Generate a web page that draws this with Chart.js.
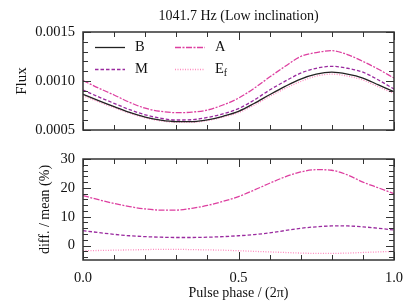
<!DOCTYPE html>
<html>
<head>
<meta charset="utf-8">
<script src="https://cdn.jsdelivr.net/npm/chart.js@4.4.1/dist/chart.umd.min.js"></script>
<style>
body { margin: 0; background: #fff; }
#wrap { position: relative; width: 415px; height: 305px; }
canvas { position: absolute; left: 0; }
</style>
</head>
<body>
<div id="wrap">
  <canvas id="fluxChart" width="415" height="140" style="top:0"></canvas>
  <canvas id="diffChart" width="415" height="165" style="top:140px"></canvas>
</div>
<script>
// data
const phase = [0, 0.05, 0.1, 0.15, 0.2, 0.25, 0.3, 0.35, 0.4, 0.45, 0.5,
               0.55, 0.6, 0.65, 0.7, 0.75, 0.8, 0.85, 0.9, 0.95, 1.0];

const fluxB = [0.000865, 0.000800, 0.000738, 0.000680, 0.000632, 0.000600, 0.000585, 0.000585, 0.000603, 0.000640, 0.000690,
               0.000770, 0.000860, 0.000945, 0.001020, 0.001070, 0.001090, 0.001070, 0.001030, 0.000960, 0.000890];
const fluxM = [0.000908, 0.000838, 0.000772, 0.000708, 0.000655, 0.000620, 0.000602, 0.000605, 0.000628, 0.000665, 0.000718,
               0.000805, 0.000908, 0.000998, 0.001080, 0.001130, 0.001150, 0.001130, 0.001090, 0.001010, 0.000918];
const fluxA = [0.001005, 0.000928, 0.000857, 0.000782, 0.000722, 0.000690, 0.000677, 0.000682, 0.000704, 0.000755, 0.000825,
               0.000925, 0.001040, 0.001150, 0.001250, 0.001290, 0.001310, 0.001270, 0.001200, 0.001120, 0.001030];
const fluxEf = [0.000850, 0.000787, 0.000727, 0.000671, 0.000624, 0.000593, 0.000578, 0.000578, 0.000596, 0.000631, 0.000677,
                0.000754, 0.000842, 0.000924, 0.000995, 0.001050, 0.001070, 0.001050, 0.001010, 0.000940, 0.000873];

const diffA = [17.3, 15.9, 14.6, 13.5, 12.7, 12.3, 12.3, 12.9, 13.9, 15.3, 17.0,
               19.2, 21.6, 23.8, 25.5, 26.3, 26.1, 24.5, 22.0, 20.0, 18.0];
const diffM = [5.2, 4.5, 3.9, 3.4, 3.1, 2.9, 2.8, 2.8, 2.9, 3.1, 3.4,
               3.8, 4.4, 5.2, 6.0, 6.5, 6.8, 6.8, 6.5, 6.0, 5.4];
const diffEf = [-1.8, -1.7, -1.6, -1.5, -1.4, -1.3, -1.3, -1.4, -1.5, -1.6, -1.8,
                -2.0, -2.2, -2.4, -2.6, -2.7, -2.7, -2.6, -2.4, -2.2, -2.0];

const fluxTicks = [0.0005, 0.0010, 0.0015];
const diffTicks = [0, 10, 20, 30];
const phaseTicks = [0, 0.5, 1];

Chart.defaults.font.family = "'Liberation Serif', 'DejaVu Serif', serif";
Chart.defaults.font.size = 14;
Chart.defaults.color = '#111';

const colB = '#222222', colM = '#9a2a9f', colA = '#dd3fa0', colEf = '#ff8cc0';

function pts(arr) {
  return phase.map((p, i) => ({ x: p, y: arr[i] }));
}

function line(label, arr, color, dash) {
  return {
    label: label,
    data: pts(arr),
    borderColor: color,
    borderWidth: 1.3,
    borderDash: dash,
    pointRadius: 0,
    fill: false,
    cubicInterpolationMode: 'monotone'
  };
}

// fixed axis box, no extra room for labels that stick out
function fixBox(w, h) {
  return s => {
    if (w) s.width = w;
    if (h) s.height = h;
    s.paddingTop = 0; s.paddingBottom = 0;
    s.paddingLeft = 0; s.paddingRight = 0;
  };
}

// frame round the plot, with inward ticks on all four sides
const frameTicks = {
  id: 'frameTicks',
  afterDatasetsDraw(chart, args, opts) {
    const { ctx, chartArea: a, scales } = chart;
    ctx.save();
    ctx.strokeStyle = '#333';
    ctx.lineWidth = 1;
    const seg = (x1, y1, x2, y2) => {
      ctx.beginPath(); ctx.moveTo(x1, y1); ctx.lineTo(x2, y2); ctx.stroke();
    };
    for (let i = 0; i <= opts.xCount; i++) {
      const v = opts.xMin + i * opts.xStep;
      const px = Math.round(scales.x.getPixelForValue(v)) + 0.5;
      const len = (i % opts.xMajorEvery === 0) ? 8 : 5;
      seg(px, a.bottom, px, a.bottom - len);
      seg(px, a.top, px, a.top + len);
    }
    for (let i = 0; i <= opts.yCount; i++) {
      const v = opts.yMin + i * opts.yStep;
      const py = Math.round(scales.y.getPixelForValue(v)) + 0.5;
      const len = ((i - opts.yMajorOffset) % opts.yMajorEvery === 0) ? 8 : 5;
      seg(a.left, py, a.left + len, py);
      seg(a.right, py, a.right - len, py);
    }
    ctx.lineWidth = 1.5;
    ctx.strokeRect(a.left, a.top, a.right - a.left, a.bottom - a.top);
    ctx.restore();
  }
};

// legend drawn inside the upper panel, two columns
const innerLegend = {
  id: 'innerLegend',
  afterDraw(chart, args, opts) {
    if (!opts.show) return;
    const { ctx, chartArea: a } = chart;
    ctx.save();
    chart.data.datasets.forEach((ds, i) => {
      const col = Math.floor(i / 2), row = i % 2;
      const x0 = a.left + 12 + col * 80;
      const y = a.top + 15.5 + row * 22;
      ctx.strokeStyle = ds.borderColor;
      ctx.lineWidth = ds.borderWidth;
      ctx.setLineDash(ds.borderDash || []);
      ctx.beginPath(); ctx.moveTo(x0, y); ctx.lineTo(x0 + 30, y); ctx.stroke();
      ctx.setLineDash([]);
      ctx.fillStyle = '#111';
      ctx.textBaseline = 'middle';
      ctx.textAlign = 'left';
      const parts = ds.label.split('_');
      ctx.font = "14.5px 'Liberation Serif'";
      ctx.fillText(parts[0], x0 + 40, y);
      if (parts[1]) {
        const w = ctx.measureText(parts[0]).width;
        ctx.font = "10px 'Liberation Serif'";
        ctx.fillText(parts[1], x0 + 40 + w, y + 4);
      }
    });
    ctx.restore();
  }
};

new Chart(document.getElementById('fluxChart'), {
  type: 'line',
  data: {
    datasets: [
      line('B', fluxB, colB, []),
      line('M', fluxM, colM, [3.5, 2]),
      line('A', fluxA, colA, [6, 1.5, 2, 1.5]),
      line('E_f', fluxEf, colEf, [1, 1.5])
    ]
  },
  options: {
    responsive: false,
    animation: false,
    layout: { padding: { left: 0, right: 21, top: 0, bottom: 0 } },
    plugins: {
      legend: { display: false },
      tooltip: { enabled: false },
      title: {
        display: true,
        text: '1041.7 Hz (Low inclination)',
        fullSize: false,
        padding: { top: 8, bottom: 7.2 },
        font: { size: 14, weight: 'normal' },
        color: '#111'
      },
      frameTicks: { xMin: 0, xStep: 0.1, xCount: 10, xMajorEvery: 5,
                    yMin: 0.0005, yStep: 0.0001, yCount: 10, yMajorEvery: 5, yMajorOffset: 0 },
      innerLegend: { show: true }
    },
    scales: {
      x: {
        type: 'linear', min: 0, max: 1,
        grid: { display: false }, border: { display: false },
        ticks: { display: false },
        afterFit: fixBox(0, 10)
      },
      y: {
        min: 0.0005, max: 0.0015,
        grid: { display: false, drawTicks: false }, border: { display: false },
        afterBuildTicks: s => { s.ticks = fluxTicks.map(v => ({ value: v })); },
        ticks: { padding: 8, font: { size: 14.5 }, callback: v => Number(v).toFixed(4) },
        title: { display: true, text: 'Flux', font: { size: 15 }, padding: { top: 13, bottom: 0 } },
        afterFit: fixBox(83, 0)
      }
    }
  },
  plugins: [frameTicks, innerLegend]
});

new Chart(document.getElementById('diffChart'), {
  type: 'line',
  data: {
    datasets: [
      line('M', diffM, colM, [3.5, 2]),
      line('A', diffA, colA, [6, 1.5, 2, 1.5]),
      line('E_f', diffEf, colEf, [1, 1.5])
    ]
  },
  options: {
    responsive: false,
    animation: false,
    layout: { padding: { left: 0, right: 21, top: 19, bottom: 0 } },
    plugins: {
      legend: { display: false },
      tooltip: { enabled: false },
      frameTicks: { xMin: 0, xStep: 0.1, xCount: 10, xMajorEvery: 5,
                    yMin: -4, yStep: 2, yCount: 17, yMajorEvery: 5, yMajorOffset: 2 },
      innerLegend: { show: false }
    },
    scales: {
      x: {
        type: 'linear', min: 0, max: 1,
        grid: { display: false, drawTicks: false }, border: { display: false },
        afterBuildTicks: s => { s.ticks = phaseTicks.map(v => ({ value: v })); },
        ticks: { padding: 9, maxRotation: 0, font: { size: 14.5 }, callback: v => Number(v).toFixed(1) },
        title: { display: true, text: 'Pulse phase / (2\u03c0)', padding: { top: 0, bottom: 3 } },
        afterFit: fixBox(0, 45)
      },
      y: {
        min: -5, max: 30,
        grid: { display: false, drawTicks: false }, border: { display: false },
        afterBuildTicks: s => { s.ticks = diffTicks.map(v => ({ value: v })); },
        ticks: { padding: 8, font: { size: 14.5 } },
        title: { display: true, text: 'diff. / mean (%)', padding: { top: 37, bottom: 0 } },
        afterFit: fixBox(83, 0)
      }
    }
  },
  plugins: [frameTicks, innerLegend]
});
</script>
</body>
</html>
